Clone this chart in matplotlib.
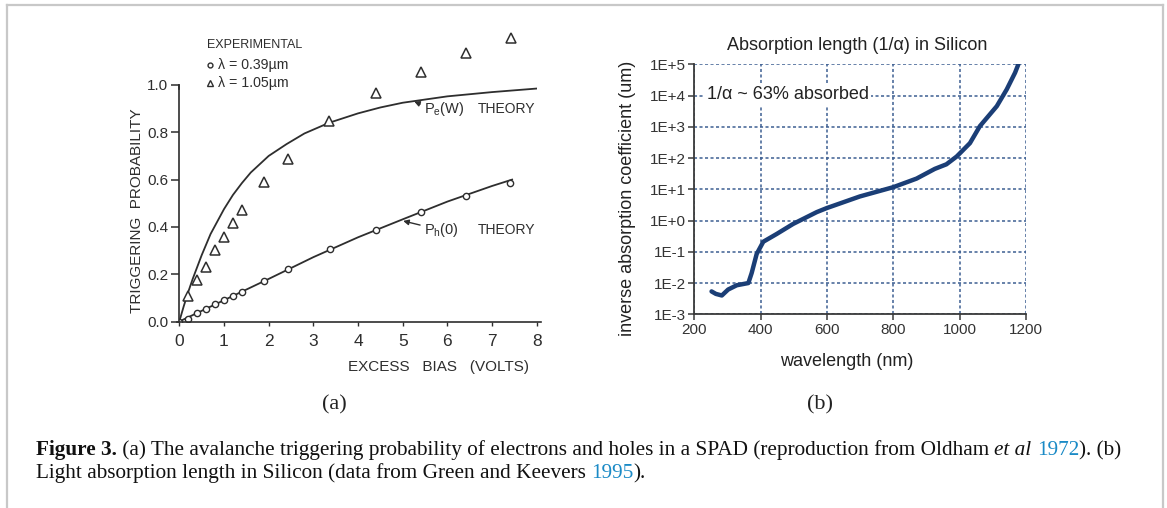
import matplotlib
matplotlib.use('Agg')
import matplotlib.pyplot as plt
import numpy as np
from matplotlib.lines import Line2D

# panel (a): triggering probability vs excess bias (Oldham et al 1972)
bias_tri = [0.2, 0.4, 0.6, 0.8, 1.0, 1.2, 1.4, 1.9, 2.43, 3.36, 4.4, 5.41, 6.41, 7.42]
prob_tri = [0.106, 0.176, 0.232, 0.303, 0.357, 0.416, 0.472, 0.589, 0.686, 0.848, 0.965, 1.056, 1.134, 1.20]
bias_circ = [0.0, 0.2, 0.4, 0.6, 0.8, 1.0, 1.2, 1.4, 1.9, 2.43, 3.38, 4.4, 5.4, 6.41, 7.4]
prob_circ = [0.0, 0.012, 0.035, 0.053, 0.074, 0.089, 0.106, 0.125, 0.172, 0.223, 0.306, 0.386, 0.461, 0.532, 0.585]
bias_pe = [0.0, 0.1, 0.2, 0.3, 0.4, 0.5, 0.6, 0.7, 0.8, 0.9, 1.0, 1.2, 1.4, 1.6, 1.8, 2.0,
           2.4, 2.8, 3.35, 4.0, 4.5, 5.0, 6.0, 7.0, 8.0]
theory_pe = [0.0, 0.065, 0.125, 0.18, 0.23, 0.28, 0.325, 0.37, 0.405, 0.44, 0.475, 0.535,
             0.585, 0.63, 0.665, 0.70, 0.75, 0.795, 0.84, 0.88, 0.905, 0.925, 0.952, 0.97, 0.985]
bias_ph = [0.0, 1.0, 2.0, 3.0, 4.0, 5.0, 6.0, 7.0, 7.45]
theory_ph = [0.0, 0.09, 0.18, 0.272, 0.356, 0.432, 0.507, 0.573, 0.60]
a_xticks = [0, 1, 2, 3, 4, 5, 6, 7, 8]
a_yticks = [0.0, 0.2, 0.4, 0.6, 0.8, 1.0]
a_yticklabels = ['0.0', '0.2', '0.4', '0.6', '0.8', '1.0']

# panel (b): absorption length in silicon (Green and Keevers 1995)
wavelength = [252, 265, 283, 302, 328, 363, 373, 388, 408, 448, 498, 569, 599, 699, 800,
              870, 925, 960, 991, 1031, 1061, 1112, 1142, 1167, 1177]
inv_alpha = [0.0054, 0.0045, 0.0040, 0.0062, 0.0085, 0.010, 0.021, 0.085, 0.21, 0.37, 0.78,
             1.86, 2.5, 5.9, 11.7, 22, 45, 63, 112, 300, 1050, 4570, 15800, 53700, 100000]
b_xticks = [200, 400, 600, 800, 1000, 1200]
b_yticks = [1e-3, 1e-2, 1e-1, 1e0, 1e1, 1e2, 1e3, 1e4, 1e5]
b_yticklabels = ['1E-3', '1E-2', '1E-1', '1E+0', '1E+1', '1E+2', '1E+3', '1E+4', '1E+5']

W, H = 1167, 508
ink = '#2e2e2e'
narrow = 'Liberation Sans'
plt.rcParams['mathtext.fontset'] = 'custom'
plt.rcParams['mathtext.rm'] = 'Liberation Sans'

fig = plt.figure(figsize=(W / 100, H / 100), dpi=100)

# light grey frame around figure
for xs, ys in [([7, 7], [0, H - 5]), ([7, 1163], [H - 5, H - 5]), ([1163, 1163], [H - 5, 0])]:
    fig.add_artist(Line2D(np.array(xs) / W, np.array(ys) / H, color='#c8c8c8', lw=1.6,
                          transform=fig.transFigure))

# ---- panel (a)
axa = fig.add_axes([179.3 / W, 1 - 321.5 / H, 357.4 / W, 1.25 * 236.5 / H])
axa.plot(bias_pe, theory_pe, color=ink, lw=1.3)
axa.plot(bias_ph, theory_ph, color=ink, lw=1.3)
axa.plot(bias_tri, prob_tri, ls='none', marker='^', ms=6.5, mfc='white', mec=ink, mew=1.1)
axa.plot(bias_circ, prob_circ, ls='none', marker='o', ms=4.5, mfc='white', mec=ink, mew=1.0)
axa.set_xlim(0, 8)
axa.set_ylim(0, 1.25)
for s in ['top', 'right']:
    axa.spines[s].set_visible(False)
axa.spines['left'].set_bounds(0, 1.0)
axa.spines['bottom'].set_bounds(-0.05, 8.1)
for s in ['left', 'bottom']:
    axa.spines[s].set_color(ink)
    axa.spines[s].set_linewidth(1.2)
axa.set_xticks(a_xticks)
axa.set_xticklabels([str(v) for v in a_xticks], family=narrow, fontsize=12.5, color=ink)
axa.set_yticks(a_yticks)
axa.set_yticklabels(a_yticklabels, family=narrow, fontsize=11, color=ink)
axa.tick_params(axis='y', direction='out', length=6, width=1.1, color=ink, pad=2)
axa.tick_params(axis='x', direction='out', length=3, width=1.0, color=ink, pad=6)
axa.plot([0, 0], [1.0, 0.985], color=ink, lw=1.2, clip_on=False)
fig.text(438 / W, 1 - 367.5 / H, 'EXCESS   BIAS   (VOLTS)', family=narrow, fontsize=11,
         color=ink, ha='center', va='center')
fig.text(137 / W, 1 - 211 / H, 'TRIGGERING  PROBABILITY', family=narrow, fontsize=11,
         color=ink, ha='center', va='center', rotation=90)

# legend block
axa.text(0.61, 1.169, 'EXPERIMENTAL', family=narrow, fontsize=9, color=ink, va='center')
axa.plot([0.69], [1.085], ls='none', marker='o', ms=3.5, mfc='white', mec=ink, mew=1.0, clip_on=False)
axa.text(0.87, 1.085, 'λ = 0.39µm', family=narrow, fontsize=10.2, color=ink, va='center')
axa.plot([0.69], [1.008], ls='none', marker='^', ms=4.5, mfc='white', mec=ink, mew=1.0, clip_on=False)
axa.text(0.87, 1.008, 'λ = 1.05µm', family=narrow, fontsize=10.2, color=ink, va='center')

# theory labels
axa.annotate('', xy=(5.2, 0.935), xytext=(5.45, 0.915),
             arrowprops=dict(arrowstyle='-|>', color=ink, lw=1.0, mutation_scale=8))
axa.text(5.47, 0.9, r'$\mathregular{P_e}$(W)', family=narrow, fontsize=10.5, color=ink, va='center')
axa.text(6.69, 0.9, 'THEORY', family=narrow, fontsize=10, color=ink, va='center')
axa.annotate('', xy=(4.95, 0.428), xytext=(5.45, 0.405),
             arrowprops=dict(arrowstyle='-|>', color=ink, lw=1.0, mutation_scale=8))
axa.text(5.47, 0.387, r'$\mathregular{P_h}$(0)', family=narrow, fontsize=10.5, color=ink, va='center')
axa.text(6.69, 0.387, 'THEORY', family=narrow, fontsize=10, color=ink, va='center')

fig.text(334 / W, 1 - 405 / H, '(a)', family='Liberation Serif', fontsize=16,
         ha='center', va='center', color='#222222')

# ---- panel (b)
sans = 'Liberation Sans'
axb = fig.add_axes([694.3 / W, 1 - 314.3 / H, 331.7 / W, 250 / H])
axb.set_yscale('log')
axb.plot(wavelength, inv_alpha, color='#1b3e76', lw=3.2, solid_joinstyle='round',
         solid_capstyle='round')
axb.set_xlim(200, 1200)
axb.set_ylim(1e-3, 1e5)
axb.set_xticks(b_xticks)
axb.set_xticklabels([str(v) for v in b_xticks], family=sans, fontsize=11, color='#333333')
axb.set_yticks(b_yticks)
axb.set_yticklabels(b_yticklabels, family=sans, fontsize=11, color='#333333')
axb.minorticks_off()
axb.grid(True, color='#3d5f92', ls=(0, (2.0, 1.6)), lw=1.1)
for s in ['top', 'right']:
    axb.spines[s].set_visible(False)
for s in ['left', 'bottom']:
    axb.spines[s].set_color('#3a3a3a')
    axb.spines[s].set_linewidth(1.3)
axb.tick_params(direction='out', length=4, width=1.1, color='#3a3a3a', pad=2)
axb.text(237, 1.1e4, '1/α ~ 63% absorbed', family=sans, fontsize=13, color='#222222',
         va='center', bbox=dict(facecolor='white', edgecolor='none', pad=1.5))

fig.text(857 / W, 1 - 45.7 / H, 'Absorption length (1/α) in Silicon', family=sans,
         fontsize=13, ha='center', va='center', color='#222222')
fig.text(627 / W, 1 - 198 / H, 'inverse absorption coefficient (um)', family=sans,
         fontsize=13, ha='center', va='center', rotation=90, color='#222222')
fig.text(847 / W, 1 - 362 / H, 'wavelength (nm)', family=sans, fontsize=13,
         ha='center', va='center', color='#222222')
fig.text(820 / W, 1 - 405 / H, '(b)', family='Liberation Serif', fontsize=16,
         ha='center', va='center', color='#222222')

# ---- caption, pieced together fragment by fragment
serif = 'Liberation Serif'
blue = '#1a8ac6'
cap_size = 15.3
renderer = fig.canvas.get_renderer()


def put_line(x_px, y_px, parts):
    x = x_px
    for txt, kw in parts:
        t = fig.text(x / W, 1 - y_px / H, txt, family=serif, fontsize=cap_size,
                     va='baseline', ha='left', color=kw.get('color', '#111111'),
                     weight=kw.get('weight', 'normal'), style=kw.get('style', 'normal'))
        x += t.get_window_extent(renderer).width


put_line(36, 455, [
    ('Figure 3.', {'weight': 'bold'}),
    (' (a) The avalanche triggering probability of electrons and holes in a SPAD (reproduction from Oldham ', {}),
    ('et al', {'style': 'italic'}),
    (' ', {}),
    ('1972', {'color': blue}),
    ('). (b)', {}),
])
put_line(36, 478, [
    ('Light absorption length in Silicon (data from Green and Keevers ', {}),
    ('1995', {'color': blue}),
    (').', {}),
])

fig.savefig('out.png', dpi=100)
